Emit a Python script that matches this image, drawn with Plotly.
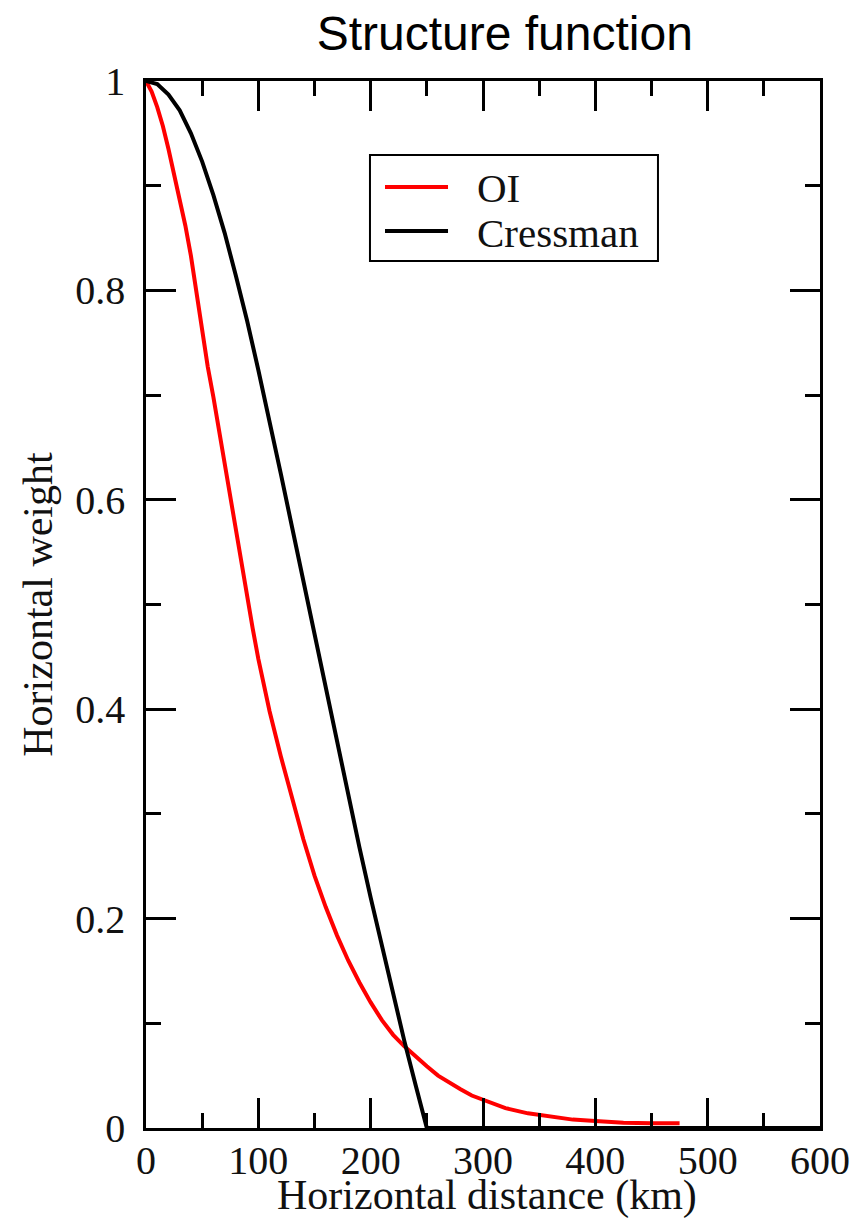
import plotly.graph_objects as go

# Data
oi_x = [0, 5, 10, 15, 20, 25, 30, 35, 40, 45, 50, 55, 60, 65, 70, 75, 80, 85, 90, 95,
        100, 110, 120, 130, 140, 150, 160, 170, 180, 190, 200, 210, 220, 230, 240, 250,
        260, 270, 280, 290, 300, 320, 340, 360, 380, 400, 425, 450, 475]
oi_y = [1.0, 0.990, 0.975, 0.957, 0.935, 0.911, 0.886, 0.862, 0.833, 0.796, 0.760, 0.727,
        0.698, 0.666, 0.635, 0.605, 0.574, 0.541, 0.510, 0.477,
        0.448, 0.398, 0.355, 0.316, 0.276, 0.241, 0.211, 0.184, 0.160, 0.139, 0.120, 0.103,
        0.089, 0.078, 0.068, 0.059, 0.050, 0.043, 0.037, 0.031, 0.027, 0.019, 0.014, 0.011,
        0.008, 0.0067, 0.005, 0.0045, 0.0045]

cr_x = [0, 10, 20, 30, 40, 50, 60, 70, 80, 90, 100, 110, 120, 130, 140, 150, 160, 170,
        180, 190, 200, 210, 220, 230, 240, 250, 300, 400, 500, 600]
cr_y = [1.0, 0.997, 0.987, 0.972, 0.950, 0.923, 0.891, 0.855, 0.814, 0.771, 0.724, 0.676,
        0.625, 0.574, 0.523, 0.471, 0.419, 0.368, 0.317, 0.268, 0.220, 0.173, 0.127, 0.083,
        0.041, 0.0, 0.0, 0.0, 0.0, 0.0]

series_names = ["OI", "Cressman"]
series_colors = ["#ff0000", "#000000"]

x_ticks = [0, 100, 200, 300, 400, 500, 600]
y_ticks = [0, 0.2, 0.4, 0.6, 0.8, 1]
y_tick_text = ["0", "0.2", "0.4", "0.6", "0.8", "1"]

SERIF = "Liberation Serif"

fig = go.Figure()
fig.add_trace(go.Scatter(x=oi_x, y=oi_y, mode="lines", name=series_names[0],
                         line=dict(color=series_colors[0], width=4), showlegend=False))
fig.add_trace(go.Scatter(x=cr_x, y=cr_y, mode="lines", name=series_names[1],
                         line=dict(color=series_colors[1], width=4), showlegend=False))

axis_common = dict(
    showgrid=False, zeroline=False, showline=True, linecolor="black", linewidth=2.5,
    ticks="inside", ticklen=30, tickwidth=2.5, tickcolor="black", mirror="allticks",
    tickfont=dict(family=SERIF, size=40, color="#111"), automargin=False,
)

fig.update_xaxes(range=[0, 600], tickvals=x_ticks,
                 minor=dict(dtick=50, ticks="inside", ticklen=15, tickwidth=2.5, tickcolor="black"),
                 ticklabelstandoff=-5,
                 **axis_common)
fig.update_yaxes(range=[0, 1], tickvals=y_ticks, ticktext=y_tick_text,
                 minor=dict(dtick=0.1, ticks="inside", ticklen=15, tickwidth=2.5, tickcolor="black"),
                 title=dict(text="Horizontal weight", font=dict(family=SERIF, size=42, color="#111"),
                            standoff=10),
                 ticklabelstandoff=10,
                 **axis_common)

# x-axis title
fig.add_annotation(xref="paper", yref="paper", x=0.506, y=(1128 - 1221) / 1047,
                   text="Horizontal distance (km)", showarrow=False,
                   xanchor="center", yanchor="bottom",
                   font=dict(family=SERIF, size=42, color="#111"))

# Manual legend box (paper coordinates)
fig.add_shape(type="rect", xref="paper", yref="paper", x0=0.3323, x1=0.7596, y0=0.8281, y1=0.9293,
              line=dict(color="black", width=2), fillcolor="white", layer="above")
fig.add_shape(type="line", xref="paper", yref="paper", x0=0.3546, x1=0.4481, y0=0.8988, y1=0.8988,
              line=dict(color=series_colors[0], width=4))
fig.add_shape(type="line", xref="paper", yref="paper", x0=0.3546, x1=0.4481, y0=0.8567, y1=0.8567,
              line=dict(color=series_colors[1], width=4))
fig.add_annotation(xref="paper", yref="paper", x=0.4880, y=0.8975, text=series_names[0],
                   showarrow=False, xanchor="left", yanchor="middle",
                   font=dict(family=SERIF, size=41, color="#111"))
fig.add_annotation(xref="paper", yref="paper", x=0.4880, y=0.8550, text=series_names[1],
                   showarrow=False, xanchor="left", yanchor="middle",
                   font=dict(family=SERIF, size=41, color="#111"))

fig.update_layout(
    width=861, height=1222,
    margin=dict(l=146, r=41, t=81, b=94),
    paper_bgcolor="white", plot_bgcolor="white",
    title=dict(text="Structure function", x=0.5297 * 674 / 861 + 146 / 861 + 0.002, xanchor="center",
               y=1 - 33 / 1222, yanchor="middle",
               font=dict(family="Liberation Sans", size=48, color="black")),
    showlegend=False,
)

fig.write_html("out.html")
